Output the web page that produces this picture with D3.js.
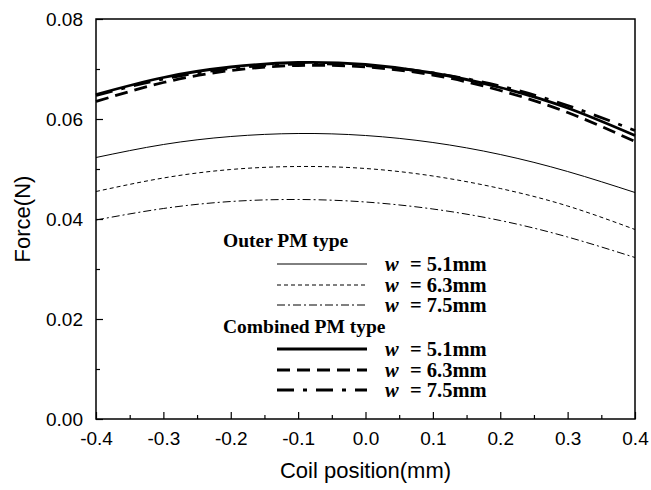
<!DOCTYPE html>
<meta charset="utf-8">
<head>
<style>
  body { margin: 0; background: #fff; }
  .axis text { font-family: "Liberation Sans", Arial, sans-serif; font-size: 19px; fill: #000; }
  .axis path { display: none; }
  .axis line { stroke: #000; stroke-width: 1.2px; }
  .title { font-family: "Liberation Sans", Arial, sans-serif; font-size: 22px; fill: #000; }
  .leg { font-family: "Liberation Serif", "Times New Roman", serif; font-size: 19.5px; font-weight: bold; fill: #000; }
  .legw { font-family: "Liberation Serif", "Times New Roman", serif; font-size: 20.5px; font-weight: bold; fill: #000; }
</style>
</head>
<body>
<script src="https://d3js.org/d3.v7.min.js"></script>
<script>

// Data
var coilPos  = [-0.4, -0.3, -0.2, -0.1, 0.0, 0.1, 0.2, 0.3, 0.4];
var outer51  = [0.0523, 0.0549, 0.0565, 0.0571, 0.0567, 0.0553, 0.0529, 0.0495, 0.0453];
var outer63  = [0.0455, 0.0482, 0.0499, 0.0505, 0.0501, 0.0486, 0.0461, 0.0426, 0.0379];
var outer75  = [0.0398, 0.0421, 0.0435, 0.0439, 0.0434, 0.0420, 0.0397, 0.0364, 0.0323];
var comb51   = [0.0649, 0.0683, 0.0704, 0.0713, 0.0709, 0.0692, 0.0663, 0.0622, 0.0567];
var comb63   = [0.0635, 0.0673, 0.0697, 0.0707, 0.0704, 0.0688, 0.0657, 0.0613, 0.0555];
var comb75   = [0.0647, 0.0680, 0.0701, 0.0710, 0.0707, 0.0692, 0.0666, 0.0627, 0.0577];
var xTicks   = [-0.4, -0.3, -0.2, -0.1, 0.0, 0.1, 0.2, 0.3, 0.4];
var yTicks   = [0.00, 0.02, 0.04, 0.06, 0.08];
var wLabels  = ["5.1mm", "6.3mm", "7.5mm"];

var width = 651, height = 490;
var margin = {top: 19, right: 16, bottom: 71, left: 96};
var w = width - margin.left - margin.right,
    h = height - margin.top - margin.bottom;

var svg = d3.select("body").append("svg")
    .attr("width", width)
    .attr("height", height);

var g = svg.append("g")
    .attr("transform", "translate(" + margin.left + "," + margin.top + ")");

var x = d3.scaleLinear().domain([-0.4, 0.4]).range([0, w]);
var y = d3.scaleLinear().domain([0, 0.08]).range([h, 0]);

// plain hyphen for negatives, like the original
var fmtX = function(d) { return d3.format(".1f")(d).replace("\u2212", "-"); };

// minor ticks
g.append("g").attr("class", "axis")
    .attr("transform", "translate(0," + h + ")")
    .call(d3.axisBottom(x).tickValues(d3.range(-0.35, 0.4, 0.1)).tickSize(-4).tickFormat(""));
g.append("g").attr("class", "axis")
    .call(d3.axisLeft(y).tickValues(d3.range(0.01, 0.08, 0.02)).tickSize(-4).tickFormat(""));

// major ticks
g.append("g").attr("class", "axis")
    .attr("transform", "translate(0," + h + ")")
    .call(d3.axisBottom(x).tickValues(xTicks).tickSize(-7).tickPadding(13).tickFormat(fmtX));
g.append("g").attr("class", "axis")
    .call(d3.axisLeft(y).tickValues(yTicks).tickSize(-7).tickPadding(13).tickFormat(d3.format(".2f")));

// frame
g.append("rect")
    .attr("width", w).attr("height", h)
    .attr("fill", "none").attr("stroke", "#000").attr("stroke-width", 1.5);

var series = [
  {vals: outer51, sw: 1, dash: null},
  {vals: outer63, sw: 1, dash: "4,3"},
  {vals: outer75, sw: 1, dash: "8,3,2,3"},
  {vals: comb51, sw: 2.8, dash: null},
  {vals: comb63, sw: 2.8, dash: "13,7"},
  {vals: comb75, sw: 2.8, dash: "17,9,4,9"}
];

var line = d3.line()
    .x(function(d) { return x(d[0]); })
    .y(function(d) { return y(d[1]); })
    .curve(d3.curveNatural);

series.forEach(function(s) {
  g.append("path")
    .datum(coilPos.map(function(p, i) { return [p, s.vals[i]]; }))
    .attr("d", line)
    .attr("fill", "none")
    .attr("stroke", "#000")
    .attr("stroke-width", s.sw)
    .attr("stroke-dasharray", s.dash);
});

// axis titles
svg.append("text").attr("class", "title")
    .attr("x", margin.left + w / 2).attr("y", 478)
    .attr("text-anchor", "middle")
    .text("Coil position(mm)");
svg.append("text").attr("class", "title")
    .attr("transform", "translate(30," + (margin.top + h / 2) + ")rotate(-90)")
    .attr("text-anchor", "middle")
    .text("Force(N)");

// legend
var leg = svg.append("g");
var groupY = [[247, [264, 285, 305]], [333, [349, 370, 390]]];
var groupName = ["Outer PM type", "Combined PM type"];

groupY.forEach(function(gr, gi) {
  leg.append("text").attr("class", "leg")
    .attr("x", 223).attr("y", gr[0])
    .text(groupName[gi]);
  gr[1].forEach(function(ry, ri) {
    var s = series[gi * 3 + ri];
    leg.append("line")
      .attr("x1", 277).attr("x2", 367)
      .attr("y1", ry).attr("y2", ry)
      .attr("stroke", "#000")
      .attr("stroke-width", s.sw)
      .attr("stroke-dasharray", s.dash);
    var t = leg.append("text").attr("class", "legw")
      .attr("x", 385).attr("y", ry + 6.5);
    t.append("tspan").style("font-style", "italic").text("w");
    t.append("tspan").attr("x", 410).text("= " + wLabels[ri]);
  });
});

</script>
</body>
